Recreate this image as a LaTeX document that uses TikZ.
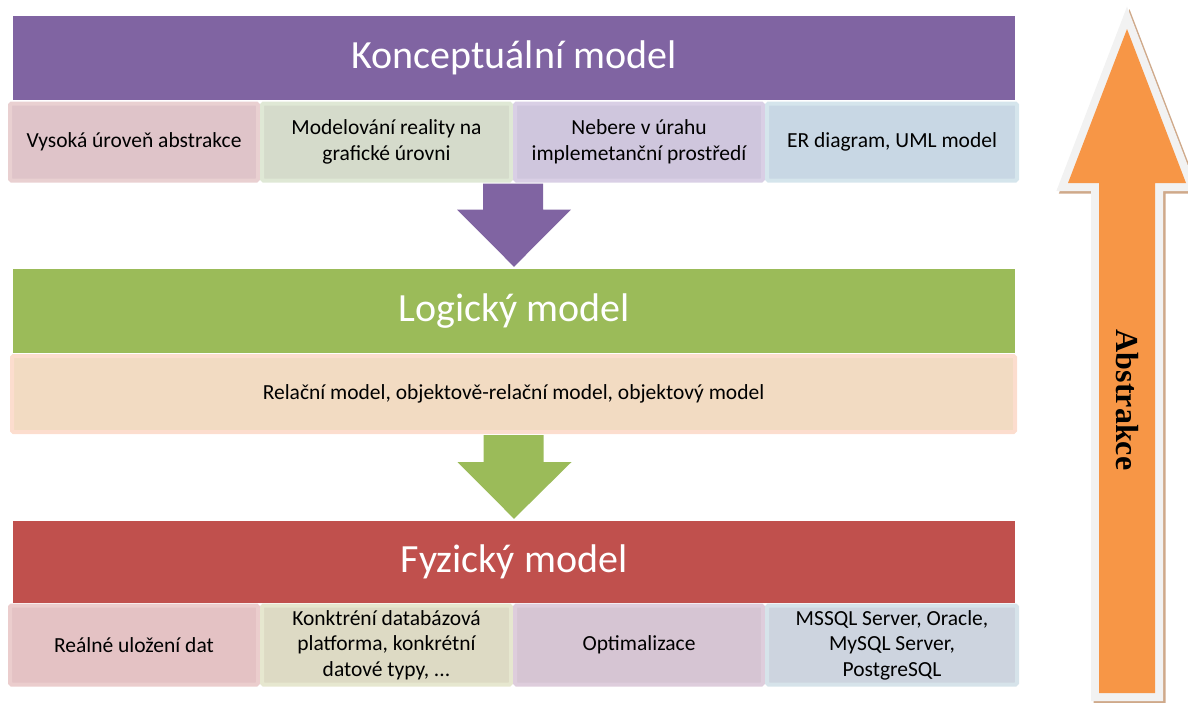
\documentclass[tikz,border=0pt]{standalone}
\usepackage{fontspec}
\setmainfont{Carlito}
\newfontfamily\serifbold{Liberation Serif}
\usetikzlibrary{calc}

\definecolor{kpurple}{HTML}{8064A2}
\definecolor{kgreen}{HTML}{9BBB59}
\definecolor{kred}{HTML}{C0504D}
\definecolor{korange}{HTML}{F79646}
\definecolor{kgray}{HTML}{F2F2F2}
\definecolor{kshadow}{HTML}{CFA98A}
% cell fills and their lighter rims
\definecolor{caf}{HTML}{DFC4C9}\definecolor{cab}{HTML}{E9D0D1}
\definecolor{cbf}{HTML}{D5DBCB}\definecolor{cbb}{HTML}{DFE8D5}
\definecolor{ccf}{HTML}{CFC6DD}\definecolor{ccb}{HTML}{D9CFE5}
\definecolor{cdf}{HTML}{C8D7E4}\definecolor{cdb}{HTML}{D5E5EC}
\definecolor{cpf}{HTML}{F2DBC2}\definecolor{cpb}{HTML}{FCDDCE}
\definecolor{cef}{HTML}{E4C2C4}\definecolor{ceb}{HTML}{EBCDCD}
\definecolor{cff}{HTML}{DDDAC4}\definecolor{cfb}{HTML}{E6E7CF}
\definecolor{cgf}{HTML}{D6C5D3}\definecolor{cgb}{HTML}{DECDDC}
\definecolor{chf}{HTML}{CDD4DF}\definecolor{chb}{HTML}{D6E3EA}

\begin{document}
\begin{tikzpicture}[x=1pt,y=-1pt,
  band/.style={rectangle, inner sep=0pt, minimum width=1002pt,
    minimum height=84pt, text=white, font=\fontsize{40}{48}\selectfont},
  cell/.style={rectangle, inner sep=0pt, line width=4pt, minimum height=77pt,
    align=center, text=black, rounded corners=1.5pt,
    font=\fontsize{21.5}{25.5}\selectfont},
]
\useasboundingbox (0,0) rectangle (1188,702);

% --- conceptual level ---
\node[band, fill=kpurple] (b1) at (514,58) {Konceptuální model};
\node[cell, fill=caf, draw=cab, minimum width=248pt] (c11) at (134,142) {Vysoká úroveň abstrakce};
\node[cell, fill=cbf, draw=cbb, minimum width=249pt] (c12) at (386.5,142) {Modelování reality na\\grafické úrovni};
\node[cell, fill=ccf, draw=ccb, minimum width=248pt] (c13) at (639,142) {Nebere v úrahu\\implemetanční prostředí};
\node[cell, fill=cdf, draw=cdb, minimum width=250pt] (c14) at (892,142) {ER diagram, UML model};

% --- logical level ---
\node[band, fill=kgreen] (b2) at (514,311) {Logický model};
\node[cell, fill=cpf, draw=cpb, minimum width=1003pt, minimum height=76pt] (c2) at (513.5,394) {Relační model, objektově-relační model, objektový model};

% --- physical level ---
\node[band, fill=kred, minimum height=82pt] (b3) at (514,562) {Fyzický model};
\node[cell, fill=cef, draw=ceb, minimum width=248pt, minimum height=79pt] (c31) at (134,645) {Reálné uložení dat};
\node[cell, fill=cff, draw=cfb, minimum width=249pt, minimum height=79pt] (c32) at (386.5,645) {Konktréní databázová\\platforma, konkrétní\\datové typy, ...};
\node[cell, fill=cgf, draw=cgb, minimum width=248pt, minimum height=79pt] (c33) at (639,645) {Optimalizace};
\node[cell, fill=chf, draw=chb, minimum width=250pt, minimum height=79pt] (c34) at (892,645) {MSSQL Server, Oracle,\\MySQL Server,\\PostgreSQL};

% --- block arrows between levels ---
\coordinate (a1) at ($(c12.south east)!0.5!(c13.south west)+(0,1)$);
\fill[kpurple] ($(a1)+(-30,0)$) -- ($(a1)+(30,0)$) -- ($(a1)+(30,26)$) -- ($(a1)+(58,26)$)
  -- ($(b2.north)+(0,-2)$) -- ($(a1)+(-56,26)$) -- ($(a1)+(-30,26)$) -- cycle;
\coordinate (a2) at ($(c2.south)+(0,1)$);
\fill[kgreen] ($(a2)+(-30,0)$) -- ($(a2)+(30,0)$) -- ($(a2)+(30,27)$) -- ($(a2)+(58,27)$)
  -- ($(b3.north)+(0,-2)$) -- ($(a2)+(-56,27)$) -- ($(a2)+(-30,27)$) -- cycle;

% --- abstraction arrow on the right ---
\def\bigarrow{(1099,693) -- (1099,183) -- (1068,183) -- (1127,29) -- (1186,183)
  -- (1155,183) -- (1155,693) -- cycle}
\draw[kshadow, line width=16pt, shift={(2.5,2.5)}] \bigarrow;
\draw[kgray, line width=16pt] \bigarrow;
\fill[korange] \bigarrow;
\node[rotate=-90, font=\serifbold\bfseries\fontsize{32}{36}\selectfont] (abs) at (1127,400) {Abstrakce};
\end{tikzpicture}
\end{document}
